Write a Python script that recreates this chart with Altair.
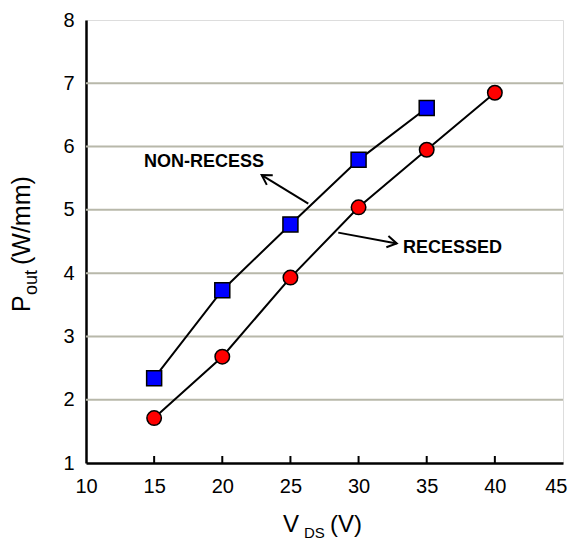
import math
import altair as alt
import pandas as pd

# ---- data ----
vds_nonrecess = [15, 20, 25, 30, 35]
pout_nonrecess = [2.34, 3.73, 4.77, 5.79, 6.61]
vds_recessed = [15, 20, 25, 30, 35, 40]
pout_recessed = [1.71, 2.68, 3.93, 5.04, 5.95, 6.85]

x_ticks_inner = [15, 20, 25, 30, 35, 40]
y_grid = [2, 3, 4, 5, 6, 7]

labels = ["NON-RECESS", "RECESSED"]
label_x = [18.66, 33.26]
label_y = [5.75, 4.39]
arrow_tail_x = [26.31, 28.51]
arrow_tail_y = [5.10, 4.64]
arrow_head_x = [22.89, 32.80]
arrow_head_y = [5.55, 4.47]

# ---- layout ----
W, H = 477, 443
XMIN, XMAX, YMIN, YMAX = 10, 45, 1, 8
FONT = "Liberation Sans"

series = pd.DataFrame(
    {"vds": vds_nonrecess + vds_recessed,
     "pout": pout_nonrecess + pout_recessed,
     "series": ["NON-RECESS"] * len(vds_nonrecess) + ["RECESSED"] * len(vds_recessed)}
)

angles = []
for tx, ty, hx, hy in zip(arrow_tail_x, arrow_tail_y, arrow_head_x, arrow_head_y):
    dx = (hx - tx) * W / (XMAX - XMIN)
    dy = -(hy - ty) * H / (YMAX - YMIN)
    angles.append(math.degrees(math.atan2(dy, dx)) % 360)

arrows = pd.DataFrame({"x": arrow_tail_x, "y": arrow_tail_y,
                       "x2": arrow_head_x, "y2": arrow_head_y, "angle": angles})
ann = pd.DataFrame({"label": labels, "x": label_x, "y": label_y})

xscale = alt.Scale(domain=[XMIN, XMAX], nice=False, zero=False)
yscale = alt.Scale(domain=[YMIN, YMAX], nice=False, zero=False)

xaxis = alt.Axis(values=list(range(10, 46, 5)), title=None, grid=False, tickSize=0,
                 labelFontSize=20, labelFont=FONT, labelColor="black", labelPadding=13,
                 domainColor="black", domainWidth=2.5, labelFlush=False,
                 labelAlign={"condition": {"test": "datum.value == 45", "value": "right"},
                             "value": "center"},
                 labelOffset={"condition": {"test": "datum.value == 45", "value": 4},
                              "value": 0})
yaxis = alt.Axis(values=list(range(1, 9)), title=None, grid=False, tickSize=0,
                 labelFontSize=20, labelFont=FONT, labelColor="black", labelPadding=12,
                 domainColor="black", domainWidth=2.5, labelFlush=False)

grid = alt.Chart(pd.DataFrame({"g": y_grid})).mark_rule(
    color="#b8b8aa", strokeWidth=2
).encode(y=alt.Y("g:Q", scale=yscale, axis=yaxis))

xt = alt.Chart(pd.DataFrame({"t": x_ticks_inner})).mark_rule(
    color="black", strokeWidth=2
).encode(x=alt.X("t:Q", scale=xscale, axis=xaxis), y=alt.value(H), y2=alt.value(H - 7))

lines = alt.Chart(series).mark_line(color="black", strokeWidth=2).encode(
    x=alt.X("vds:Q", scale=xscale, axis=xaxis),
    y=alt.Y("pout:Q", scale=yscale, axis=yaxis),
    detail="series:N",
)

squares = alt.Chart(series).transform_filter(alt.datum.series == "NON-RECESS").mark_point(
    shape="square", filled=True, fill="#0000ff", stroke="black", strokeWidth=1.5,
    size=225, opacity=1
).encode(x=alt.X("vds:Q", scale=xscale, axis=xaxis), y=alt.Y("pout:Q", scale=yscale, axis=yaxis))

circles = alt.Chart(series).transform_filter(alt.datum.series == "RECESSED").mark_point(
    shape="circle", filled=True, fill="#ff0000", stroke="black", strokeWidth=1.5,
    size=210, opacity=1
).encode(x=alt.X("vds:Q", scale=xscale, axis=xaxis), y=alt.Y("pout:Q", scale=yscale, axis=yaxis))

shafts = alt.Chart(arrows).mark_rule(color="black", strokeWidth=2).encode(
    x=alt.X("x:Q", scale=xscale, axis=xaxis), y=alt.Y("y:Q", scale=yscale, axis=yaxis),
    x2="x2:Q", y2="y2:Q",
)

heads = alt.Chart(arrows).mark_point(
    shape="M -1 -0.6 L 0 0 L -1 0.6", filled=False, stroke="black", strokeWidth=2,
    size=361, opacity=1
).encode(
    x=alt.X("x2:Q", scale=xscale, axis=xaxis), y=alt.Y("y2:Q", scale=yscale, axis=yaxis),
    angle=alt.Angle("angle:Q", scale=None),
)

ann_non = alt.Chart(ann).transform_filter(alt.datum.label == "NON-RECESS").mark_text(
    font=FONT, fontSize=18, fontWeight="bold", align="center", baseline="middle", color="black"
).encode(x=alt.X("x:Q", scale=xscale, axis=xaxis), y=alt.Y("y:Q", scale=yscale, axis=yaxis),
         text="label:N")
ann_rec = alt.Chart(ann).transform_filter(alt.datum.label == "RECESSED").mark_text(
    font=FONT, fontSize=18, fontWeight="bold", align="left", baseline="middle", color="black"
).encode(x=alt.X("x:Q", scale=xscale, axis=xaxis), y=alt.Y("y:Q", scale=yscale, axis=yaxis),
         text="label:N")


def title_piece(text, px, py, size, angle=0):
    return alt.Chart(pd.DataFrame({"t": [text]})).mark_text(
        font=FONT, fontSize=size, align="left", baseline="alphabetic", color="black",
        angle=angle
    ).encode(text="t:N", x=alt.value(px), y=alt.value(py))


titles = [
    title_piece("V", 197, 512, 24),
    title_piece("DS", 218, 518, 15),
    title_piece("(V)", 244, 512, 24),
    title_piece("P", -56, 292, 25, 270),
    title_piece("out", -49, 275, 18, 270),
    title_piece("(W/mm)", -56, 245, 25, 270),
]

chart = alt.layer(
    grid, xt, lines, squares, circles, shafts, heads, ann_non, ann_rec, *titles
).properties(
    width=W, height=H,
    autosize=alt.AutoSizeParams(type="none"),
    padding={"left": 78, "top": 12, "right": 5, "bottom": 77},
).configure_view(stroke="black", strokeWidth=2.5).configure(background="white")

chart.save("out.html", embed_options={"renderer": "svg", "actions": False})
